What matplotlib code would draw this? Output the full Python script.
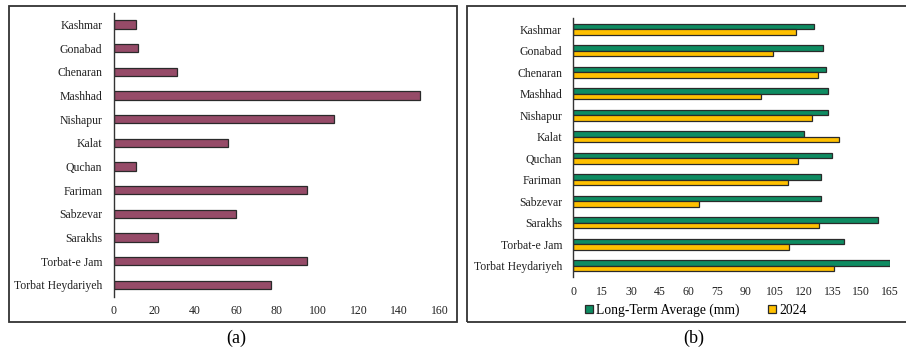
import matplotlib
matplotlib.use("Agg")
import matplotlib.pyplot as plt
from matplotlib.patches import Rectangle
from matplotlib.lines import Line2D

stations = ["Kashmar", "Gonabad", "Chenaran", "Mashhad", "Nishapur", "Kalat",
            "Quchan", "Fariman", "Sabzevar", "Sarakhs", "Torbat-e Jam",
            "Torbat Heydariyeh"]
values_a = [11, 12, 31, 150, 108, 56, 11, 95, 60, 22, 95, 77]
long_term_avg = [125.5, 130, 131.5, 132.5, 132.5, 120, 135, 129, 129, 159, 141, 165]
rain_2024 = [116, 104, 127.5, 98, 124.5, 138.5, 117, 112, 65.5, 128, 112.5, 136]
ticks_a = [0, 20, 40, 60, 80, 100, 120, 140, 160]
ticks_b = [0, 15, 30, 45, 60, 75, 90, 105, 120, 135, 150, 165]
legend_labels = ["Long-Term Average (mm)", "2024"]

plt.rcParams["font.family"] = ["Liberation Serif", "DejaVu Serif"]
W, H = 906, 355
fig = plt.figure(figsize=(W / 100, H / 100), dpi=100)

MAROON = "#964B68"
GREEN = "#0E8C62"
GOLD = "#FFC000"
EDGE = "#2a2a2a"
FS = 8.5

def fx(px):
    return px / W

def fy(py):
    return 1 - py / H

# panel frames
for x0, x1 in [(9, 457), (467, 912)]:
    fig.add_artist(Rectangle((fx(x0), fy(322)), fx(x1 - x0), (322 - 6) / H,
                             fill=False, edgecolor="#333333", lw=1.3,
                             transform=fig.transFigure))

def style(ax):
    for s in ["top", "right", "bottom"]:
        ax.spines[s].set_visible(False)
    ax.spines["left"].set_color("#333333")
    ax.spines["left"].set_linewidth(1.0)
    ax.tick_params(axis="both", length=0, labelsize=FS, colors="#222222")
    ax.set_ylim(len(stations) - 0.5, -0.5)
    ax.set_yticks(range(len(stations)))
    ax.set_yticklabels(stations)

# (a)
ax1 = fig.add_axes([fx(113.5), fy(296.7), fx(440 - 113.5), 284 / H])
ypos = list(range(len(stations)))
ax1.barh(ypos, values_a, height=0.36, color=MAROON, edgecolor=EDGE, lw=0.9)
style(ax1)
ax1.set_xlim(0, 160)
ax1.set_xticks(ticks_a)
ax1.tick_params(axis="x", pad=6)
ax1.tick_params(axis="y", pad=8)

# (b)
ax2 = fig.add_axes([fx(573.3), fy(276.7), fx(316.7), 258.4 / H])
bh = 0.255
ax2.barh([y - bh / 2 for y in ypos], long_term_avg, height=bh, color=GREEN,
         edgecolor=EDGE, lw=0.9)
ax2.barh([y + bh / 2 for y in ypos], rain_2024, height=bh, color=GOLD,
         edgecolor=EDGE, lw=0.9)
style(ax2)
ax2.set_xlim(0, 165)
ax2.set_xticks(ticks_b)
ax2.tick_params(axis="x", pad=7)
ax2.tick_params(axis="y", pad=8)

handles = [Line2D([], [], marker="s", ls="none", markersize=5.5,
                  markerfacecolor=c, markeredgecolor=EDGE, markeredgewidth=0.9)
           for c in (GREEN, GOLD)]
fig.legend(handles, legend_labels, loc="center", ncol=2, frameon=False,
           bbox_to_anchor=(fx(695), fy(310)), fontsize=9.8,
           handletextpad=0.1, columnspacing=2.0, handlelength=0.8)

fig.text(fx(236), fy(338), "(a)", ha="center", va="center", fontsize=13)
fig.text(fx(694), fy(338), "(b)", ha="center", va="center", fontsize=13)

fig.savefig("out.png", dpi=100)
